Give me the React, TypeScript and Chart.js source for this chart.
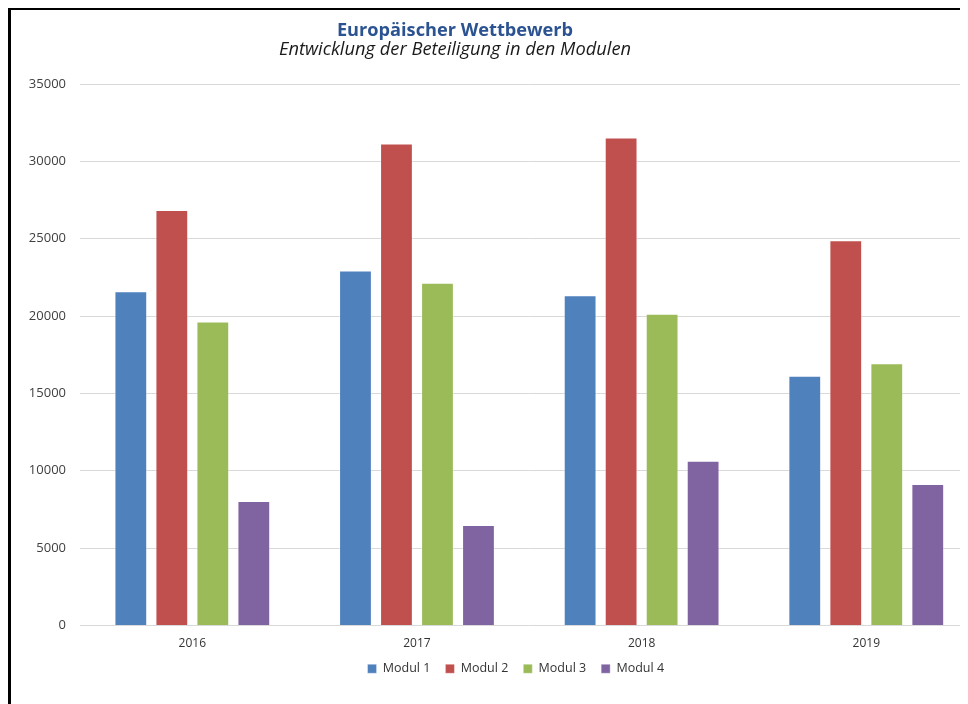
import React, { useEffect, useRef } from "react";
import { Chart, registerables } from "chart.js";

Chart.register(...registerables);

const TITLE = "Europäischer Wettbewerb";
const SUBTITLE = "Entwicklung der Beteiligung in den Modulen";
const YEARS = ["2016", "2017", "2018", "2019"];
const SERIES_NAMES = ["Modul 1", "Modul 2", "Modul 3", "Modul 4"];
const MODUL_1 = [21600, 22950, 21350, 16150];
const MODUL_2 = [26850, 31150, 31550, 24900];
const MODUL_3 = [19650, 22150, 20150, 16950];
const MODUL_4 = [8050, 6500, 10650, 9150];
const COLORS = ["#4F81BD", "#C0504D", "#9BBB59", "#8064A2"];
const Y_MIN = 0;
const Y_MAX = 35000;
const Y_STEP = 5000;

const FONT = "'Open Sans', 'DejaVu Sans', sans-serif";

const titlePlugin = {
  id: "customTitle",
  afterDraw(chart: any) {
    const ctx = chart.ctx;
    ctx.save();
    ctx.textAlign = "center";
    ctx.textBaseline = "alphabetic";
    ctx.fillStyle = "#2B5291";
    ctx.font = `bold 18.2px ${FONT}`;
    ctx.fillText(TITLE, 444, 25.5);
    ctx.fillStyle = "#1a1a1a";
    ctx.font = `italic 18.3px ${FONT}`;
    ctx.fillText(SUBTITLE, 444, 44.5);
    ctx.restore();
  },
};

const legendShiftPlugin = {
  id: "legendShift",
  afterLayout(chart: any) {
    const lg = chart.legend;
    if (lg) {
      lg.left += 21;
      lg.right += 21;
    }
  },
};

export default function App() {
  const ref = useRef<HTMLCanvasElement | null>(null);

  useEffect(() => {
    document.documentElement.style.overflow = "hidden";
    document.body.style.overflow = "hidden";
    if (!ref.current) return;
    const seriesValues = [MODUL_1, MODUL_2, MODUL_3, MODUL_4];
    const chart = new Chart(ref.current, {
      type: "bar",
      data: {
        labels: YEARS,
        datasets: SERIES_NAMES.map((name, i) => ({
          label: name,
          data: seriesValues[i],
          backgroundColor: COLORS[i],
          borderColor: "rgba(255,255,255,0.35)",
          borderWidth: 1,
          categoryPercentage: 0.73,
          barPercentage: 0.8,
        })),
      },
      options: {
        animation: false,
        responsive: true,
        maintainAspectRatio: false,
        layout: {
          padding: { left: 0, right: 32.4, top: 74, bottom: 19 },
        },
        plugins: {
          title: { display: false },
          tooltip: { enabled: false },
          legend: {
            display: true,
            position: "bottom",
            labels: {
              boxWidth: 9,
              boxHeight: 9,
              padding: 15,
              color: "#333333",
              font: { family: FONT, size: 12.5 },
            },
          },
        },
        scales: {
          x: {
            grid: { display: false, drawTicks: false },
            border: { display: false },
            afterFit: (scale: any) => {
              scale.height = 22;
            },
            ticks: {
              padding: 11,
              color: "#333333",
              font: { family: FONT, size: 12 },
            },
          },
          y: {
            min: Y_MIN,
            max: Y_MAX,
            grid: { color: "#d9d9d9", lineWidth: 1, drawTicks: false },
            border: { display: false },
            afterFit: (scale: any) => {
              scale.width = 69;
            },
            ticks: {
              stepSize: Y_STEP,
              padding: 14,
              color: "#404040",
              font: { family: FONT, size: 13 },
              callback: (value: any) => String(value),
            },
          },
        },
      },
      plugins: [titlePlugin, legendShiftPlugin],
    });
    return () => chart.destroy();
  }, []);

  return (
    <div
      style={{
        width: 957,
        height: 694,
        borderLeft: "3px solid #000",
        borderTop: "2px solid #000",
        overflow: "hidden",
        position: "relative",
      }}
    >
      <div style={{ width: 1000, height: 694, position: "relative" }}>
        <canvas ref={ref} />
      </div>
    </div>
  );
}
